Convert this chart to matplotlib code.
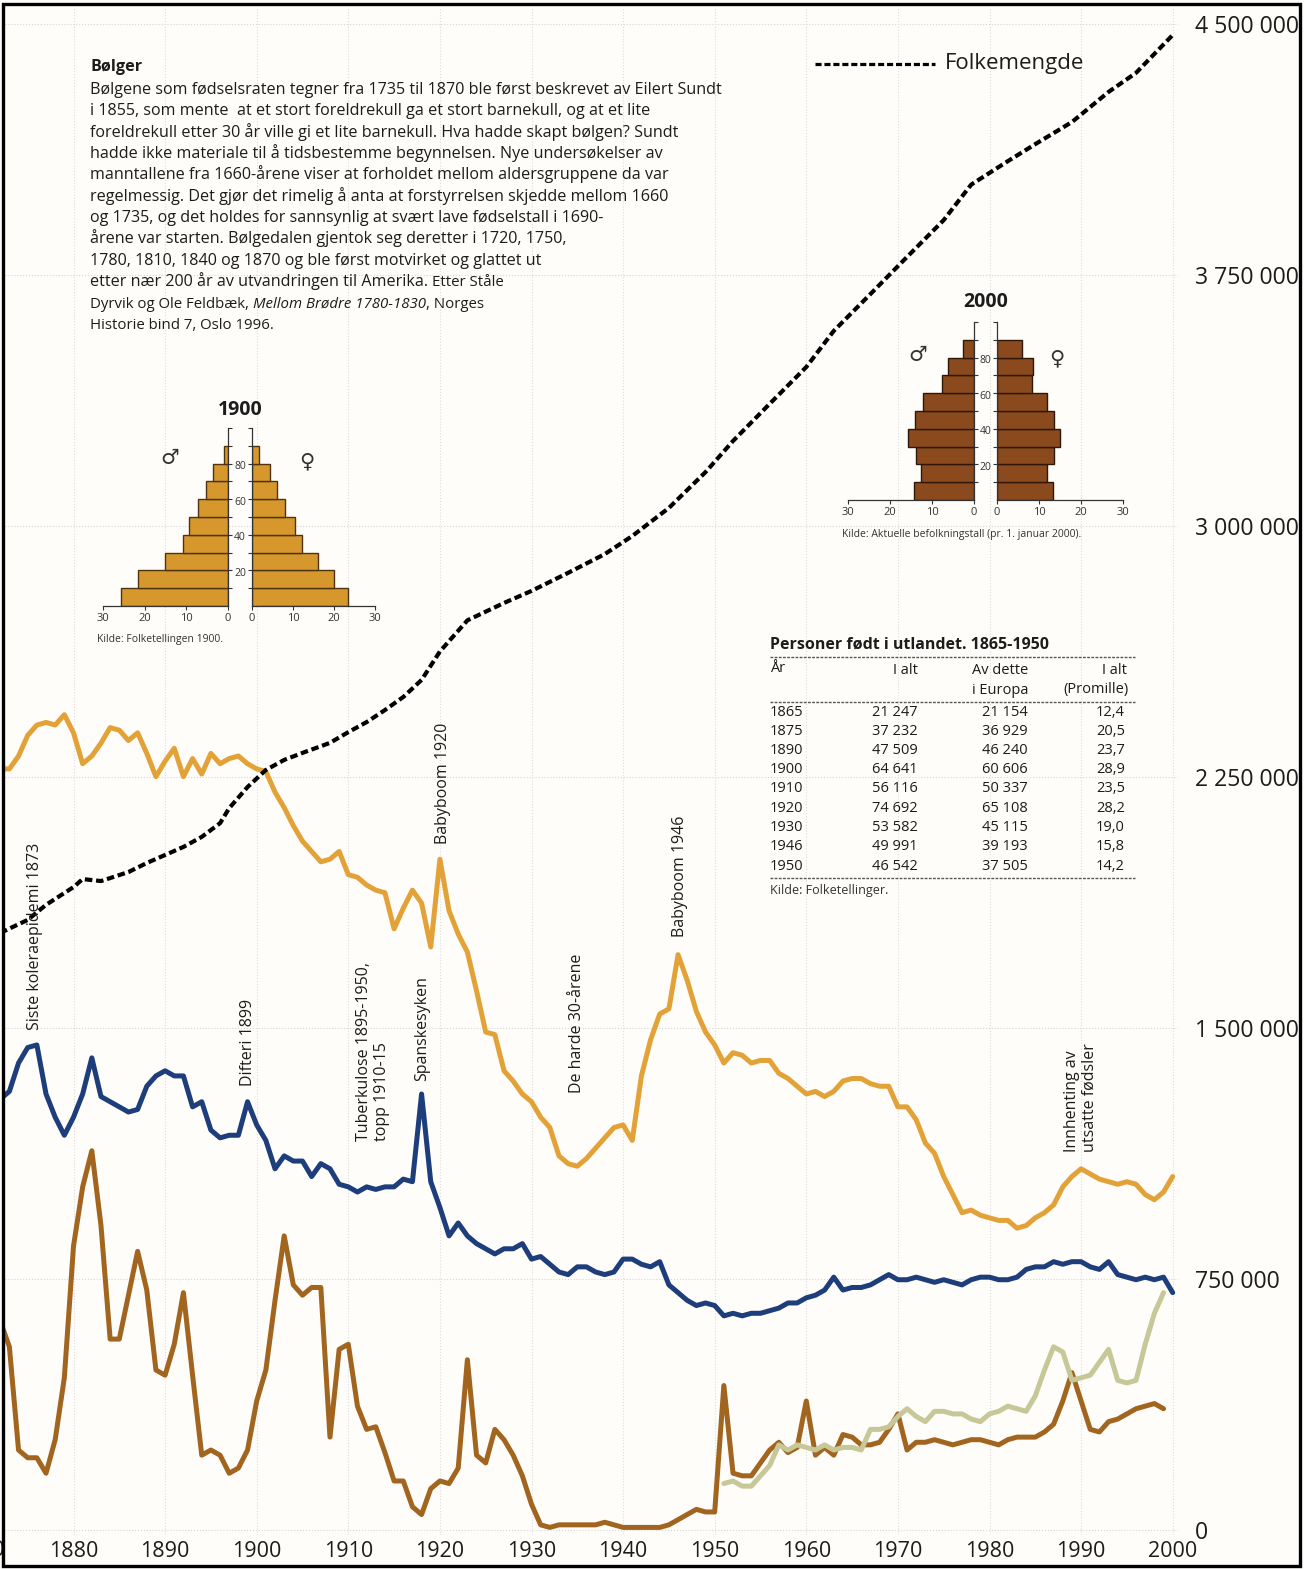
import matplotlib
matplotlib.use('Agg')
import matplotlib.pyplot as plt
from matplotlib.lines import Line2D
from matplotlib.patches import Rectangle

plt.rcParams['font.family'] = ['Open Sans', 'DejaVu Sans']

W, H, DPI = 1306, 1569, 100

# ---------------- data ----------------
years = list(range(1872, 2001))
# fodselsrate, promille
birth_rate = [29.5, 29.5, 30.0, 30.8, 31.2, 31.3, 31.2, 31.6,
              30.9, 29.7, 30.0, 30.5, 31.1, 31.0, 30.6, 30.9, 30.1, 29.2,
              29.8, 30.3, 29.2, 29.9, 29.3, 30.1, 29.7, 29.9, 30.0, 29.7,
              29.5, 29.4, 28.6, 28.0, 27.3, 26.7, 26.3, 25.9, 26.0, 26.3,
              25.4, 25.3, 25.0, 24.8, 24.7, 23.3, 24.1, 24.8, 24.3, 22.6,
              26.0, 24.0, 23.1, 22.4, 20.9, 19.3, 19.2, 17.8, 17.4, 16.9,
              16.6, 16.0, 15.6, 14.5, 14.2, 14.1, 14.4, 14.8, 15.2, 15.6,
              15.7, 15.1, 17.6, 19.0, 20.0, 20.2, 22.3, 21.3, 20.1, 19.3,
              18.8, 18.1, 18.5, 18.4, 18.1, 18.2, 18.2, 17.7, 17.5, 17.2,
              16.9, 17.0, 16.8, 17.0, 17.4, 17.5, 17.5, 17.3, 17.2, 17.2,
              16.4, 16.4, 15.9, 15.0, 14.6, 13.7, 13.0, 12.3, 12.4, 12.2,
              12.1, 12.0, 12.0, 11.7, 11.8, 12.1, 12.3, 12.6, 13.3, 13.7,
              14.0, 13.8, 13.6, 13.5, 13.4, 13.5, 13.4, 13.0, 12.8, 13.1,
              13.7]
# dodsrate, promille
death_rate = [16.7, 17.0, 18.1, 18.7, 18.8, 16.9, 16.0, 15.3,
              16.0, 16.9, 18.3, 16.8, 16.6, 16.4, 16.2, 16.3, 17.2, 17.6,
              17.8, 17.6, 17.6, 16.4, 16.6, 15.5, 15.2, 15.3, 15.3, 16.6,
              15.7, 15.1, 14.0, 14.5, 14.3, 14.3, 13.7, 14.2, 14.0, 13.4,
              13.3, 13.1, 13.3, 13.2, 13.3, 13.3, 13.6, 13.5, 16.9, 13.5,
              12.5, 11.4, 11.9, 11.4, 11.1, 10.9, 10.7, 10.9, 10.9, 11.1,
              10.5, 10.6, 10.3, 10.0, 9.9, 10.2, 10.2, 10.0, 9.9, 10.0,
              10.5, 10.5, 10.3, 10.2, 10.4, 9.5, 9.2, 8.9, 8.7, 8.8,
              8.7, 8.3, 8.4, 8.3, 8.4, 8.4, 8.5, 8.6, 8.8, 8.8,
              9.0, 9.1, 9.3, 9.8, 9.3, 9.4, 9.4, 9.5, 9.7, 9.9,
              9.7, 9.7, 9.8, 9.7, 9.6, 9.7, 9.6, 9.5, 9.7, 9.8,
              9.8, 9.7, 9.7, 9.8, 10.1, 10.2, 10.2, 10.4, 10.3, 10.4,
              10.4, 10.2, 10.1, 10.4, 9.9, 9.8, 9.7, 9.8, 9.7, 9.8,
              9.2]
# utvandring, promille
emig_years = list(range(1872, 2000))
emigration = [8.1, 7.1, 3.1, 2.8, 2.8, 2.2, 3.5, 5.9,
              11.0, 13.3, 14.7, 11.8, 7.4, 7.4, 9.1, 10.8, 9.3, 6.2,
              6.0, 7.2, 9.2, 6.0, 2.9, 3.1, 2.9, 2.2, 2.4, 3.1,
              5.0, 6.2, 8.9, 11.4, 9.5, 9.1, 9.4, 9.4, 3.6, 7.0,
              7.2, 4.8, 3.9, 4.0, 3.0, 1.9, 1.9, 0.9, 0.6, 1.6,
              1.9, 1.8, 2.4, 6.6, 2.9, 2.6, 3.9, 3.5, 2.9, 2.1,
              1.0, 0.2, 0.1, 0.2, 0.2, 0.2, 0.2, 0.2, 0.3, 0.2,
              0.1, 0.1, 0.1, 0.1, 0.1, 0.2, 0.4, 0.6, 0.8, 0.7,
              0.7, 5.6, 2.2, 2.1, 2.1, 2.6, 3.1, 3.4, 3.0, 3.2,
              5.0, 2.9, 3.2, 2.9, 3.7, 3.6, 3.3, 3.3, 3.4, 3.9,
              4.5, 3.1, 3.4, 3.4, 3.5, 3.4, 3.3, 3.4, 3.5, 3.5,
              3.4, 3.3, 3.5, 3.6, 3.6, 3.6, 3.8, 4.1, 5.0, 6.1,
              5.0, 3.9, 3.8, 4.2, 4.3, 4.5, 4.7, 4.8, 4.9, 4.7]
# innvandring, promille
imm_years = list(range(1951, 2000))
immigration = [1.8, 1.9, 1.7, 1.7, 2.1, 2.5, 3.3, 3.1, 3.3, 3.2,
               3.1, 3.3, 3.1, 3.2, 3.2, 3.1, 3.9, 3.9, 4.0, 4.4,
               4.7, 4.4, 4.2, 4.6, 4.6, 4.5, 4.5, 4.3, 4.2, 4.5,
               4.6, 4.8, 4.7, 4.6, 5.2, 6.2, 7.1, 6.9, 5.8, 5.9,
               6.0, 6.5, 7.0, 5.8, 5.7, 5.8, 7.2, 8.4, 9.2]
# folkemengde
pop_years = [1872, 1875, 1877, 1880, 1881, 1883, 1886, 1888, 1890, 1892,
             1894, 1896, 1897, 1899, 1901, 1903, 1905, 1908, 1910, 1912,
             1914, 1916, 1918, 1920, 1923, 1927, 1930, 1934, 1938, 1941,
             1945, 1949, 1952, 1956, 1960, 1963, 1967, 1971, 1975, 1978,
             1982, 1985, 1989, 1993, 1996, 2000]
population = [1784000, 1823000, 1868000, 1921000, 1945000, 1939000, 1966000,
              1993000, 2017000, 2041000, 2071000, 2112000, 2157000, 2220000,
              2271000, 2301000, 2322000, 2352000, 2384000, 2414000, 2450000,
              2489000, 2540000, 2625000, 2718000, 2770000, 2806000, 2860000,
              2916000, 2970000, 3054000, 3161000, 3254000, 3365000, 3475000,
              3583000, 3693000, 3804000, 3914000, 4020000, 4090000, 4141000,
              4207000, 4297000, 4354000, 4467000]
pop_ticks = [0, 750000, 1500000, 2250000, 3000000, 3750000, 4500000]
pop_labels = ['0', '750 000', '1 500 000', '2 250 000', '3 000 000',
              '3 750 000', '4 500 000']
decades = list(range(1880, 2001, 10))

# aldersfordeling (prosent), aldersgrupper 0-9 ... 80-89
pyr_ages = [0, 10, 20, 30, 40, 50, 60, 70, 80]
pyr1900_men = [25.8, 21.6, 15.1, 10.9, 9.3, 7.3, 5.3, 3.5, 1.0]
pyr1900_women = [23.5, 19.9, 16.0, 12.2, 10.5, 8.1, 6.1, 4.3, 1.6]
pyr2000_men = [14.3, 12.7, 13.8, 15.7, 14.1, 12.2, 7.6, 6.1, 2.7]
pyr2000_women = [13.3, 12.0, 13.6, 14.9, 13.6, 12.0, 8.3, 8.5, 6.0]

tab_years = ['1865', '1875', '1890', '1900', '1910', '1920', '1930', '1946', '1950']
tab_total = ['21 247', '37 232', '47 509', '64 641', '56 116', '74 692',
             '53 582', '49 991', '46 542']
tab_europe = ['21 154', '36 929', '46 240', '60 606', '50 337', '65 108',
              '45 115', '39 193', '37 505']
tab_promille = ['12,4', '20,5', '23,7', '28,9', '23,5', '28,2', '19,0', '15,8', '14,2']

para_title = 'Bølger'
para_lines = [
    'Bølgene som fødselsraten tegner fra 1735 til 1870 ble først beskrevet av Eilert Sundt',
    'i 1855, som mente  at et stort foreldrekull ga et stort barnekull, og at et lite',
    'foreldrekull etter 30 år ville gi et lite barnekull. Hva hadde skapt bølgen? Sundt',
    'hadde ikke materiale til å tidsbestemme begynnelsen. Nye undersøkelser av',
    'manntallene fra 1660-årene viser at forholdet mellom aldersgruppene da var',
    'regelmessig. Det gjør det rimelig å anta at forstyrrelsen skjedde mellom 1660',
    'og 1735, og det holdes for sannsynlig at svært lave fødselstall i 1690-',
    'årene var starten. Bølgedalen gjentok seg deretter i 1720, 1750,',
    '1780, 1810, 1840 og 1870 og ble først motvirket og glattet ut',
]

C_BIRTH = '#E2A238'
C_DEATH = '#1E3D7B'
C_EMIG = '#A2651F'
C_IMM = '#C7C798'
C_TXT = '#1c1c1c'

# pixel scales of the two value axes
PX_POP = 2988.0   # innbyggere per pixel
PX_RATE = 25.8    # pixel per promille


def fx(px):
    return px / W


def fy(py):
    return 1 - py / H


def axes_px(x0, y0, x1, y1):
    return [fx(x0), fy(y1), fx(x1) - fx(x0), fy(y0) - fy(y1)]


fig = plt.figure(figsize=(W / DPI, H / DPI), dpi=DPI, facecolor='#fefdfa')
renderer = fig.canvas.get_renderer()

# ---------------- main chart ----------------
ax_r = fig.add_axes(axes_px(5, 8, 1178, 1535))
ax_r.set_facecolor('none')
x_lo = 1880 - 68.5 / 9.16
x_hi = 1880 + 1104.5 / 9.16
ax_r.set_xlim(x_lo, x_hi)
ax_r.set_ylim(-5 / PX_RATE, 1522 / PX_RATE)

ax_p = ax_r.twinx()
ax_p.set_ylim(-5 * PX_POP, 1522 * PX_POP)

for a in (ax_r, ax_p):
    for s in a.spines.values():
        s.set_visible(False)

ax_r.set_xticks(decades)
ax_r.set_xticklabels([str(d) for d in decades])
ax_r.tick_params(axis='x', length=0, pad=4.5, labelsize=15.5, labelcolor=C_TXT)
ax_r.tick_params(axis='y', left=False, labelleft=False)
ax_r.grid(axis='x', color='#dcdcdc', lw=0.8, ls=':')
ax_r.set_axisbelow(True)
# horizontal grid at the population ticks, drawn under the curves
for t in pop_ticks:
    ax_r.axhline(t / PX_POP / PX_RATE, color='#d6d6d6', lw=0.8, ls=':', zorder=0.5)

ax_p.set_yticks(pop_ticks)
ax_p.set_yticklabels(pop_labels)
ax_p.tick_params(axis='y', length=0, pad=12, labelsize=16.6, labelcolor=C_TXT)

lkw = dict(lw=3.6, solid_joinstyle='round', solid_capstyle='round')
ax_r.plot(years, birth_rate, color=C_BIRTH, **lkw)
ax_r.plot(years, death_rate, color=C_DEATH, **lkw)
ax_r.plot(emig_years, emigration, color=C_EMIG, **lkw)
ax_r.plot(imm_years, immigration, color=C_IMM, **lkw)
ax_p.plot(pop_years, population, color='black', lw=3.0, dashes=(1.8, 0.9))

fig.text(fx(-20), fy(1551), '1870', fontsize=15.5, ha='center', va='center', color=C_TXT)

# legend
fig.add_artist(Line2D([fx(815), fx(935)], [fy(64), fy(64)], transform=fig.transFigure,
                      color='black', lw=2.3, dashes=(1.9, 0.9)))
fig.text(fx(945), fy(64), 'Folkemengde', fontsize=16, va='center', ha='left', color=C_TXT)

# rotated event labels
events = [
    ('Siste koleraepidemi 1873', 35, 1030),
    ('Difteri 1899', 248, 1086),
    ('Tuberkulose 1895-1950,\ntopp 1910-15', 373, 1141),
    ('Spanskesyken', 422, 1081),
    ('Babyboom 1920', 443, 844),
    ('De harde 30-årene', 577, 1093),
    ('Babyboom 1946', 680, 937),
    ('Innhenting av\nutsatte fødsler', 1081, 1152),
]
for s, x, y in events:
    fig.text(fx(x), fy(y), s, rotation=90, ha='center', va='bottom',
             multialignment='left', fontsize=11.5, color=C_TXT, linespacing=1.1)

# ---------------- text block ----------------
probe = fig.text(0, 0, para_lines[0], fontsize=10)
fs = 10 * 630 / probe.get_window_extent(renderer).width
probe.remove()
base0, step = 94, 21.35
fig.text(fx(90), fy(71), para_title, fontsize=fs, weight='bold', va='baseline', color=C_TXT)
for i, s in enumerate(para_lines):
    fig.text(fx(90), fy(base0 + i * step), s, fontsize=fs, va='baseline', color=C_TXT)


def put_segments(x_px, y_px, segs):
    sp = fig.text(0, 0, 'x x', fontsize=segs[0][1])
    sq = fig.text(0, 0, 'xx', fontsize=segs[0][1])
    gap = sp.get_window_extent(renderer).width - sq.get_window_extent(renderer).width
    sp.remove()
    sq.remove()
    x = x_px
    for s, size, style, space_before in segs:
        if space_before:
            x += gap
        t = fig.text(fx(x), fy(y_px), s, fontsize=size, style=style, va='baseline', color=C_TXT)
        x += t.get_window_extent(renderer).width


small = fs * 0.93
put_segments(90, base0 + 9 * step, [
    ('etter nær 200 år av utvandringen til Amerika.', fs, 'normal', False),
    ('Etter Ståle', small, 'normal', True)])
put_segments(90, base0 + 10 * step, [
    ('Dyrvik og Ole Feldbæk,', small, 'normal', False),
    ('Mellom Brødre 1780-1830', small, 'italic', True),
    (', Norges', small, 'normal', False)])
fig.text(fx(90), fy(base0 + 11 * step), 'Historie bind 7, Oslo 1996.', fontsize=small,
         va='baseline', color=C_TXT)


# ---------------- population pyramids ----------------
def pyramid(x0, xm0, xm1, x1, y_top, y_bot, men, women, color, edge,
            title, source, title_y, sym_y, sym_x):
    axL = fig.add_axes(axes_px(x0, y_top, xm0, y_bot))
    axR = fig.add_axes(axes_px(xm1, y_top, x1, y_bot))
    for a, vals in ((axL, men), (axR, women)):
        a.barh(pyr_ages, vals, height=10, align='edge', color=color,
               edgecolor=edge, lw=1.0)
        a.set_xlim(0, 30)
        a.set_ylim(0, 100)
        a.set_facecolor('none')
        for s in a.spines.values():
            s.set_visible(False)
            s.set_color('#333333')
            s.set_linewidth(0.9)
        a.spines['bottom'].set_visible(True)
        a.set_xticks([0, 10, 20, 30])
        a.set_yticks(range(10, 101, 10))
        a.tick_params(axis='x', direction='out', length=3, width=0.8, pad=2,
                      labelsize=8, labelcolor='#333333', color='#333333')
        a.tick_params(axis='y', direction='out', length=3, width=0.8,
                      labelleft=False, labelright=False, color='#333333')
    axL.invert_xaxis()
    axL.spines['right'].set_visible(True)
    axL.yaxis.tick_right()
    axL.tick_params(axis='y', labelright=False)
    axR.spines['left'].set_visible(True)
    axR.yaxis.tick_left()
    axR.tick_params(axis='y', labelleft=False)
    xc = (xm0 + xm1) / 2
    row = (y_bot - y_top) / 100
    for age in (20, 40, 60, 80):
        fig.text(fx(xc), fy(y_bot - age * row + 3), str(age), fontsize=7.5,
                 ha='center', va='center', color='#333333')
    fig.text(fx(xc), fy(title_y), title, fontsize=14, weight='bold', ha='center',
             va='center', color=C_TXT)
    fig.text(fx(sym_x[0]), fy(sym_y), '\u2642', fontsize=15, ha='center', va='center',
             color='#333333', family=['DejaVu Sans'])
    fig.text(fx(sym_x[1]), fy(sym_y + 3), '\u2640', fontsize=15, ha='center', va='center',
             color='#333333', family=['DejaVu Sans'])
    fig.text(fx(x0 - 6), fy(y_bot + 34), source, fontsize=7.5, ha='left', va='center',
             color='#333333')


pyramid(103, 228, 252, 375, 428, 606, pyr1900_men, pyr1900_women, '#D6972D', '#4f330f',
        '1900', 'Kilde: Folketellingen 1900.', 410, 458, (170, 307))
pyramid(848, 974, 997, 1123, 322, 500, pyr2000_men, pyr2000_women, '#8A4A1D', '#2e1707',
        '2000', 'Kilde: Aktuelle befolkningstall (pr. 1. januar 2000).', 302, 355, (918, 1057))

# ---------------- table ----------------
fig.text(fx(770), fy(645), 'Personer født i utlandet. 1865-1950', fontsize=11.5,
         weight='bold', va='center', color=C_TXT)
for yl in (657, 702, 878):
    fig.add_artist(Line2D([fx(770), fx(1135)], [fy(yl), fy(yl)], transform=fig.transFigure,
                          color='#555555', lw=1.0, ls=(0, (2, 1))))
tk = dict(fontsize=10.5, va='center', color=C_TXT)
fig.text(fx(770), fy(668), 'År', ha='left', **tk)
fig.text(fx(918), fy(671), 'I alt', ha='right', **tk)
fig.text(fx(1028), fy(671), 'Av dette', ha='right', **tk)
fig.text(fx(1028), fy(690), 'i Europa', ha='right', **tk)
fig.text(fx(1127), fy(671), 'I alt', ha='right', **tk)
fig.text(fx(1129), fy(690), '(Promille)', ha='right', **tk)
for i in range(len(tab_years)):
    yy = 712 + i * 19.25
    fig.text(fx(770), fy(yy), tab_years[i], ha='left', **tk)
    fig.text(fx(918), fy(yy), tab_total[i], ha='right', **tk)
    fig.text(fx(1028), fy(yy), tab_europe[i], ha='right', **tk)
    fig.text(fx(1125), fy(yy), tab_promille[i], ha='right', **tk)
fig.text(fx(770), fy(891), 'Kilde: Folketellinger.', fontsize=9, va='center', color='#333333')

# frame
fig.add_artist(Rectangle((fx(1301), 0), fx(W) - fx(1301), 1, transform=fig.transFigure,
                         facecolor='white', edgecolor='none', zorder=20))
fig.add_artist(Rectangle((fx(3), fy(1566)), fx(1300) - fx(3), fy(4) - fy(1566),
                         transform=fig.transFigure, fill=False, lw=2.4, edgecolor='black',
                         zorder=21))

fig.savefig('out.png', dpi=DPI, facecolor=fig.get_facecolor())
